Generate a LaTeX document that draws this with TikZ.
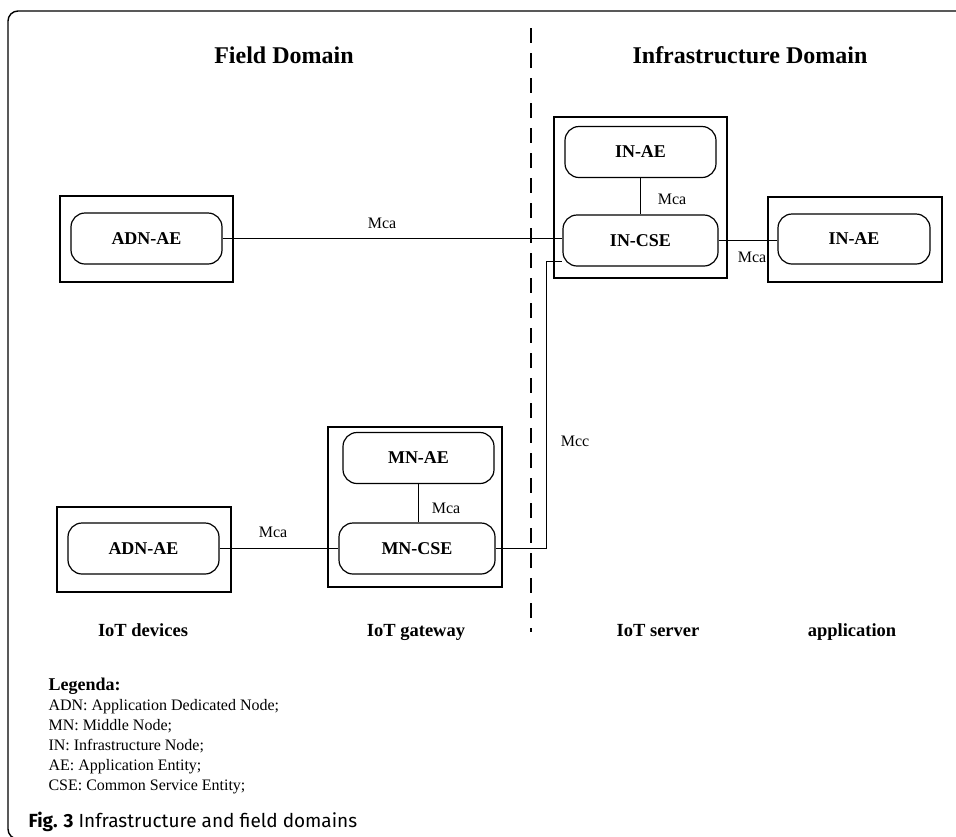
\documentclass[tikz,border=0pt]{standalone}
\usepackage{fontspec}
\setmainfont{Liberation Serif}
\newfontfamily\capfont{Fira Sans}

\tikzset{
    host/.style={draw, line width=1.2pt, inner sep=0pt},
    entity/.style={draw, rounded corners=14pt, line width=1.2pt, inner sep=0pt,
        minimum width=151pt, minimum height=51pt, font=\fontsize{18}{20}\selectfont\bfseries},
    iface/.style={font=\fontsize{16}{18}\selectfont},
    role/.style={anchor=base, font=\fontsize{18.5}{20}\selectfont\bfseries},
    domaintitle/.style={anchor=base, font=\fontsize{24}{28}\selectfont\bfseries},
    link/.style={line width=0.9pt}
}

\begin{document}
\begin{tikzpicture}[x=1pt, y=-1pt]
    \useasboundingbox (0,0) rectangle (956,836);
    \draw[line width=1.4pt, rounded corners=10pt] (8,11) rectangle (990,839);

    % domains
    \node[domaintitle] (field) at (284,63) {Field Domain};
    \node[domaintitle] (infra) at (750,63) {Infrastructure Domain};
    \coordinate (divtop) at (531,28);
    \coordinate (divbot) at (531,632);
    \draw[line width=2pt, dash pattern=on 15pt off 10pt] (divtop) -- (divbot);

    % hosts
    \node[host, minimum width=173pt, minimum height=86pt] (adnhostA) at (146.5,239) {};
    \node[host, minimum width=174pt, minimum height=85pt] (adnhostB) at (144,549.5) {};
    \node[host, minimum width=174pt, minimum height=160pt] (mnhost) at (415,507) {};
    \node[host, minimum width=173pt, minimum height=161pt] (inhost) at (640.5,197.5) {};
    \node[host, minimum width=174pt, minimum height=85pt] (apphost) at (855,239.5) {};

    % entities
    \node[entity] (adnaeA) at (146.5,238.5) {ADN-AE};
    \node[entity] (adnaeB) at (143.5,548.5) {ADN-AE};
    \node[entity] (mnae) at (418.5,458) {MN-AE};
    \node[entity, minimum width=156pt] (mncse) at (417,548.5) {MN-CSE};
    \node[entity] (inaeA) at (640.5,152) {IN-AE};
    \node[entity, minimum width=155pt] (incse) at (640.5,240.5) {IN-CSE};
    \node[entity, minimum width=152pt, minimum height=50pt] (inaeB) at (854,239) {IN-AE};

    % reference points
    \draw[link] (adnaeA.east) -- (adnaeA.east -| incse.west);
    \draw[link] (inaeA.south) -- (incse.north);
    \draw[link] (incse.east) -- (incse.east -| inaeB.west);
    \draw[link] (adnaeB.east) -- (mncse.west);
    \draw[link] (mnae.south) -- (mnae.south |- mncse.north);
    \coordinate (mccturn) at (546,548.5);
    \draw[link] (mncse.east) -- (mccturn) |- ([yshift=-21pt]incse.west);

    \node[iface] (mcaA) at (382,223) {Mca};
    \node[iface] (mcaB) at (672,199) {Mca};
    \node[iface] (mcaC) at (752,257) {Mca};
    \node[iface] (mcaD) at (273,532) {Mca};
    \node[iface] (mcaE) at (446,508) {Mca};
    \node[iface] (mcc) at (575,441) {Mcc};

    % roles
    \node[role] (devices) at (143,636) {IoT devices};
    \node[role] (gateway) at (416,636) {IoT gateway};
    \node[role] (server) at (658,636) {IoT server};
    \node[role] (appl) at (852,636) {application};

    % legend
    \node[anchor=base west, font=\fontsize{18}{20}\selectfont\bfseries] (legenda) at (45,690) {Legenda:};
    \foreach \entry [count=\i] in {{ADN: Application Dedicated Node;}, {MN: Middle Node;},
        {IN: Infrastructure Node;}, {AE: Application Entity;}, {CSE: Common Service Entity;}}
        \node[anchor=base west, font=\fontsize{16}{18}\selectfont] at (45,{690+20*\i}) {\entry};

    \node[anchor=base west, font=\capfont\fontsize{19}{22}\selectfont] (caption) at (25,827)
        {\textbf{Fig. 3} Infrastructure and field domains};
\end{tikzpicture}
\end{document}
